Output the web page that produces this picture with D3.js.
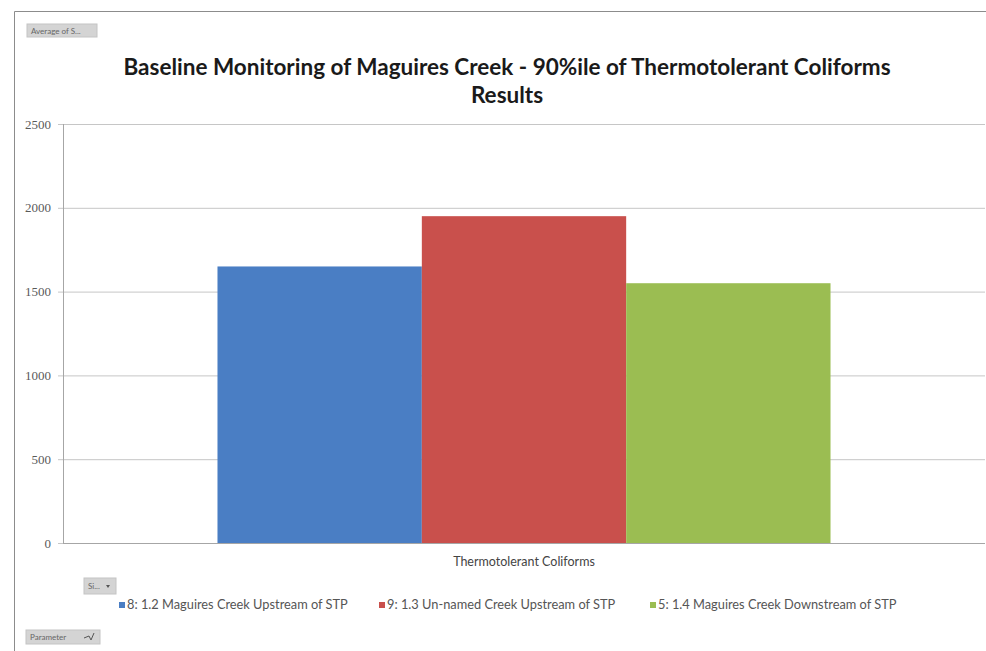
<!DOCTYPE html>
<html>
<head>
<meta charset="utf-8">
<script src="https://cdn.jsdelivr.net/npm/d3@7"></script>
<style>
  html, body { margin: 0; padding: 0; background: #ffffff; }
  svg { display: block; }
</style>
</head>
<body>
<div id="chart"></div>
<script>
// Chart data
const categories = ["Thermotolerant Coliforms"];
const seriesNames = [
  "8: 1.2 Maguires Creek Upstream of STP",
  "9: 1.3 Un-named Creek Upstream of STP",
  "5: 1.4 Maguires Creek Downstream of STP"
];
const seriesValues = [1650, 1950, 1550];
const seriesColors = ["#4a7ec4", "#c9504c", "#9bbd52"];
const yTicks = [0, 500, 1000, 1500, 2000, 2500];
const titleLines = [
  "Baseline Monitoring of Maguires Creek - 90%ile of Thermotolerant Coliforms",
  "Results"
];

const W = 986, H = 651;
const plot = { left: 63, right: 985, top: 124, bottom: 543 };

const svg = d3.select("#chart").append("svg")
  .attr("width", W).attr("height", H)
  .style("font-family", "Lato, 'Open Sans', sans-serif");

// Outer chart frame
svg.append("path")
  .attr("d", `M14.5,${H} L14.5,11.5 L${W},11.5`)
  .attr("fill", "none").attr("stroke", "#8c8c8c").attr("stroke-width", 1);

// Pivot-style field buttons
function fieldButton(x, y, w, h, label) {
  const g = svg.append("g").attr("transform", `translate(${x},${y})`);
  g.append("rect").attr("width", w).attr("height", h)
    .attr("fill", "#d4d4d4").attr("stroke", "#c4c4c4");
  g.append("text").attr("x", 4).attr("y", h / 2 + 3)
    .attr("font-size", 8).attr("fill", "#666").text(label);
  return g;
}
fieldButton(27, 24, 70, 13, "Average of S...");
const sb = fieldButton(84, 578, 32, 16, "Si...");
sb.append("path").attr("d", "M22,7 l4,0 l-2,3 z").attr("fill", "#555");
const pb = fieldButton(26, 630, 74, 14, "Parameter");
pb.append("path").attr("d", "M58,8 l5,-2 l2,4 l3,-7").attr("fill", "none").attr("stroke", "#555").attr("stroke-width", 1);

// Title
svg.append("g").selectAll("text").data(titleLines).join("text")
  .attr("x", 507).attr("y", (d, i) => 75 + i * 28)
  .attr("text-anchor", "middle")
  .attr("font-size", 22.5).attr("font-weight", "bold").attr("fill", "#1a1a1a")
  .text(d => d);

// Scales
const y = d3.scaleLinear().domain([0, 2500]).range([plot.bottom, plot.top]);
const x0 = d3.scaleBand().domain(categories).range([plot.left, plot.right])
  .paddingInner(0).paddingOuter(0.252);
const x1 = d3.scaleBand().domain(seriesNames).range([0, x0.bandwidth()]).padding(0);

// Gridlines and y axis
const yAxis = d3.axisLeft(y).tickValues(yTicks).tickSize(-(plot.right - plot.left)).tickPadding(12)
  .tickFormat(d3.format("d"));
const gy = svg.append("g").attr("transform", `translate(${plot.left},0)`).call(yAxis);
gy.select(".domain").remove();
gy.selectAll(".tick line").attr("stroke", "#c6c6c6").attr("x1", -5);
gy.selectAll(".tick text").attr("font-size", 13).attr("fill", "#5a5a5a")
  .attr("font-family", "'Liberation Serif', serif");

// Axis lines
svg.append("line").attr("x1", plot.left + 0.5).attr("x2", plot.left + 0.5)
  .attr("y1", plot.top).attr("y2", plot.bottom).attr("stroke", "#a6a6a6");

// Bars
const groups = svg.append("g").selectAll("g").data(categories).join("g")
  .attr("transform", d => `translate(${x0(d)},0)`);
groups.selectAll("rect").data(seriesNames.map((s, i) => ({ s, v: seriesValues[i], c: seriesColors[i] })))
  .join("rect")
  .attr("x", d => x1(d.s)).attr("width", x1.bandwidth())
  .attr("y", d => y(d.v)).attr("height", d => y(0) - y(d.v))
  .attr("fill", d => d.c);

// x axis
const xAxis = d3.axisBottom(x0).tickSize(0).tickPadding(14);
const gx = svg.append("g").attr("transform", `translate(0,${plot.bottom})`).call(xAxis);
gx.select(".domain").attr("stroke", "#a6a6a6").attr("d", `M${plot.left},0.5H${plot.right}`);
gx.selectAll(".tick text").attr("font-size", 12.5).attr("fill", "#444")
  .attr("font-family", "Lato, sans-serif");

// Legend
const legendX = [119, 379, 650];
const legend = svg.append("g").selectAll("g").data(seriesNames).join("g")
  .attr("transform", (d, i) => `translate(${legendX[i]},608)`);
legend.append("rect").attr("x", 0).attr("y", -6).attr("width", 6).attr("height", 6)
  .attr("fill", (d, i) => seriesColors[i]);
legend.append("text").attr("x", 8).attr("y", 1)
  .attr("font-size", 12.8).attr("fill", "#555").text(d => d);
</script>
</body>
</html>
